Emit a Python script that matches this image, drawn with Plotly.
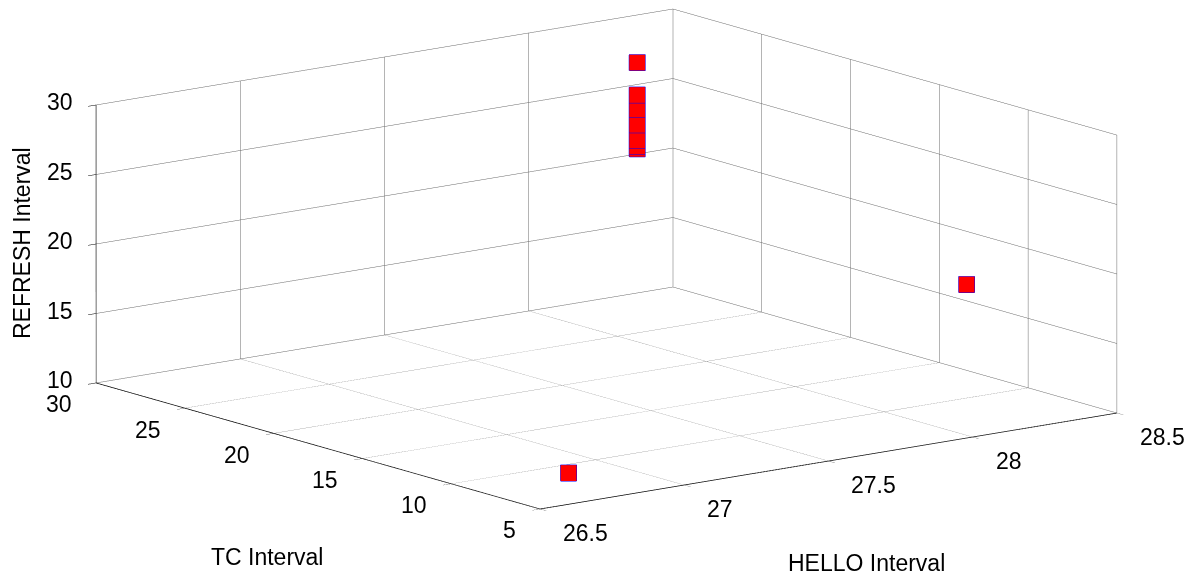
import plotly.graph_objects as go

# Parameter sets (HELLO / TC / REFRESH intervals)
hello_interval = [26.66, 28.2, 28.2, 28.2, 28.2, 28.2, 28.2, 28.2, 28.2]
tc_interval = [6.0, 8.6, 27.15, 27.15, 27.15, 27.15, 27.15, 27.15, 27.15]
refresh_interval = [11.7, 19.0, 28.24, 25.91, 24.86, 23.76, 22.65, 22.23, 22.04]

hello_ticks = [26.5, 27, 27.5, 28, 28.5]
tc_ticks = [5, 10, 15, 20, 25, 30]
refresh_ticks = [10, 15, 20, 25, 30]

hello_range = [26.5, 28.5]
tc_range = [5, 30]
refresh_range = [10, 30]

FONT = "Liberation Sans, Arial, sans-serif"
TICK_FONT = dict(family=FONT, size=23, color="black")
TITLE_FONT = dict(family=FONT, size=23, color="black")

fig = go.Figure(
    go.Scatter3d(
        x=hello_interval,
        y=tc_interval,
        z=refresh_interval,
        mode="markers",
        marker=dict(
            symbol="square",
            size=8.5,
            color="#ff0000",
            line=dict(color="#0000ff", width=4),
            opacity=1,
        ),
        hoverinfo="x+y+z",
    )
)


def axis_style(rng, ticks):
    return dict(
        range=rng,
        tickvals=ticks,
        autorange=False,
        showgrid=True,
        gridcolor="rgb(105,105,105)",
        gridwidth=1,
        showline=True,
        linecolor="black",
        linewidth=1.5,
        ticks="outside",
        ticklen=10,
        tickcolor="black",
        tickwidth=1,
        showticklabels=False,
        showbackground=False,
        zeroline=False,
        showspikes=False,
        title=dict(text=""),
    )


# Tick labels drawn flat (screen-aligned) next to each tick of the box edges
tick_labels = []
for v in refresh_ticks:
    tick_labels.append(dict(
        x=hello_range[0], y=tc_range[1], z=v, text=f"{v:g}",
        showarrow=False, xanchor="right", yanchor="middle",
        xshift=-21, yshift=3, font=TICK_FONT))
for v in tc_ticks:
    tick_labels.append(dict(
        x=hello_range[0], y=v, z=refresh_range[0], text=f"{v:g}",
        showarrow=False, xanchor="right", yanchor="middle",
        xshift=-22, yshift=-21, font=TICK_FONT))
for v in hello_ticks:
    tick_labels.append(dict(
        x=v, y=tc_range[0], z=refresh_range[0], text=f"{v:g}",
        showarrow=False, xanchor="left", yanchor="middle",
        xshift=21, yshift=-24, font=TICK_FONT))

# In orthographic mode the on-screen size follows the aspect ratio values
zoom = 2.805
r = 3.0
eye_dir = (-0.5933, -0.7751, 0.2173)

W, H = 1197, 579

fig.update_layout(
    width=W,
    height=H,
    margin=dict(l=0, r=0, t=0, b=0),
    paper_bgcolor="white",
    plot_bgcolor="white",
    showlegend=False,
    scene=dict(
        domain=dict(x=[0.0134, 1.0], y=[0.1046, 1.0]),
        xaxis=axis_style(hello_range, hello_ticks),
        yaxis=axis_style(tc_range, tc_ticks),
        zaxis=axis_style(refresh_range, refresh_ticks),
        aspectmode="manual",
        aspectratio=dict(x=1.0 * zoom, y=1.0054 * zoom, z=0.392 * zoom),
        camera=dict(
            eye=dict(x=eye_dir[0] * r, y=eye_dir[1] * r, z=eye_dir[2] * r),
            up=dict(x=0, y=0, z=1),
            center=dict(x=0, y=0, z=0),
            projection=dict(type="orthographic"),
        ),
        bgcolor="white",
        annotations=tick_labels,
    ),
    annotations=[
        dict(text="HELLO Interval", x=866 / W, y=1 - 563 / H,
             xref="paper", yref="paper", xanchor="center", yanchor="middle",
             showarrow=False, font=TITLE_FONT),
        dict(text="TC Interval", x=267 / W, y=1 - 557 / H,
             xref="paper", yref="paper", xanchor="center", yanchor="middle",
             showarrow=False, font=TITLE_FONT),
        dict(text="REFRESH Interval", x=22 / W, y=1 - 243 / H,
             xref="paper", yref="paper", xanchor="center", yanchor="middle",
             showarrow=False, textangle=-90, font=TITLE_FONT),
    ],
)

fig.write_html("out.html")
